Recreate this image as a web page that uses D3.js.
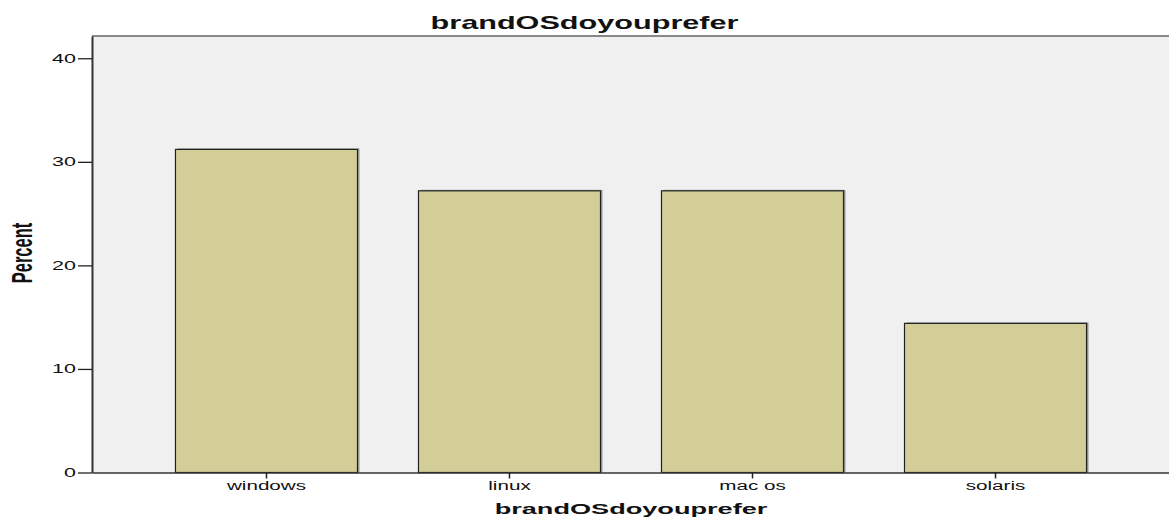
<!DOCTYPE html>
<html>
<head>
<meta charset="utf-8">
<script src="https://cdn.jsdelivr.net/npm/d3@7"></script>
<style>
  body { margin: 0; background: #fff; overflow: hidden; }
  text { font-family: "Liberation Sans", Arial, sans-serif; fill: #111; }
</style>
</head>
<body>
<svg id="myGraph" width="1169" height="520"></svg>
<script>
// data
var categories = ["windows", "linux", "mac os", "solaris"]
var percents = [31.2, 27.2, 27.2, 14.4]
var yTicks = [0, 10, 20, 30, 40]
var chartTitle = "brandOSdoyouprefer"
var yTitle = "Percent"

// layout
var svgWidth = 1169
var plotLeft = 92, plotRight = 1170
var plotTop = 36, plotBottom = 472.5
var stretch = 1.72   // the original text is drawn wide

var svg = d3.select("#myGraph")

var xScale = d3.scaleBand()
  .domain(categories)
  .range([plotLeft, plotRight])
  .paddingInner(0.251)
  .paddingOuter(0.3435)

var yScale = d3.scaleLinear()
  .domain([0, 42.15])
  .range([plotBottom, plotTop])

// plot background
svg.append("rect")
  .attr("x", plotLeft)
  .attr("y", plotTop)
  .attr("width", plotRight - plotLeft)
  .attr("height", plotBottom - plotTop)
  .attr("fill", "#f0f0f0")

// top border
svg.append("line")
  .attr("x1", plotLeft).attr("x2", plotRight)
  .attr("y1", plotTop).attr("y2", plotTop)
  .attr("stroke", "#888").attr("stroke-width", 2)

// bar shadows
svg.append("g").selectAll("rect")
  .data(percents)
  .enter().append("rect")
  .attr("x", function(d, i) { return xScale(categories[i]) + 2 })
  .attr("y", function(d) { return yScale(d) - 1 })
  .attr("width", xScale.bandwidth())
  .attr("height", function(d) { return plotBottom - yScale(d) + 1 })
  .attr("fill", "#8a8a8a")
  .attr("opacity", 0.85)

// bars
svg.append("g").selectAll("rect")
  .data(percents)
  .enter().append("rect")
  .attr("x", function(d, i) { return xScale(categories[i]) })
  .attr("y", function(d) { return yScale(d) })
  .attr("width", xScale.bandwidth())
  .attr("height", function(d) { return plotBottom - yScale(d) })
  .attr("fill", "#d3ce98")
  .attr("stroke", "#222")
  .attr("stroke-width", 1.2)

// y axis
var yAxis = d3.axisLeft(yScale)
  .tickValues(yTicks)
  .tickSize(14)
  .tickSizeOuter(0)
  .tickFormat(d3.format("d"))

var gy = svg.append("g")
  .attr("transform", "translate(" + plotLeft + ",0)")
  .call(yAxis)
gy.select(".domain").attr("stroke", "#333").attr("stroke-width", 2)
gy.selectAll(".tick line").attr("stroke", "#222").attr("stroke-width", 1.3)
gy.selectAll(".tick text")
  .attr("x", 0)
  .attr("transform", "translate(-16,0) scale(" + stretch + ",1)")
  .style("font-size", "12.5px")
  .attr("fill", "#111")

// x axis
var xAxis = d3.axisBottom(xScale)
  .tickSize(6)
  .tickSizeOuter(0)

var gx = svg.append("g")
  .attr("transform", "translate(0," + plotBottom + ")")
  .call(xAxis)
gx.select(".domain").attr("stroke", "#333").attr("stroke-width", 1.6)
gx.selectAll(".tick line").attr("stroke", "#222").attr("stroke-width", 1.5)
gx.selectAll(".tick text")
  .attr("transform", "scale(" + stretch + ",1)")
  .style("font-size", "12px")
  .attr("fill", "#111")

// titles
svg.append("text")
  .attr("transform", "translate(" + (svgWidth / 2) + ",28.5) scale(1.75,1)")
  .attr("text-anchor", "middle")
  .style("font-size", "17.5px")
  .style("font-weight", "bold")
  .text(chartTitle)

svg.append("text")
  .attr("transform", "translate(" + ((plotLeft + plotRight) / 2) + ",514) scale(1.75,1)")
  .attr("text-anchor", "middle")
  .style("font-size", "15.5px")
  .style("font-weight", "bold")
  .text(chartTitle)

svg.append("text")
  .attr("transform", "translate(32,253) scale(1.75,1) rotate(-90)")
  .attr("text-anchor", "middle")
  .style("font-size", "16.5px")
  .style("font-weight", "bold")
  .text(yTitle)
</script>
</body>
</html>
